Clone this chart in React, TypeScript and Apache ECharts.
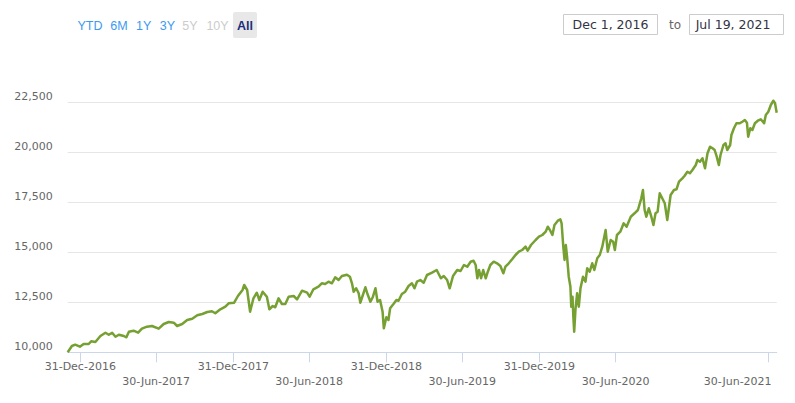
import React, { useEffect, useRef } from 'react';
import * as echarts from 'echarts';

const dates: string[] = [
  '2016-12-01','2016-12-11','2016-12-19','2016-12-30','2017-01-08','2017-01-20','2017-01-26','2017-02-05','2017-02-17','2017-03-01',
  '2017-03-09','2017-03-17','2017-03-25','2017-04-02','2017-04-14','2017-04-20','2017-04-26','2017-05-07','2017-05-18','2017-05-27',
  '2017-06-08','2017-06-20','2017-07-06','2017-07-18','2017-07-30','2017-08-11','2017-08-19','2017-08-31','2017-09-12','2017-09-24',
  '2017-10-06','2017-10-18','2017-10-30','2017-11-10','2017-11-18','2017-11-30','2017-12-12','2017-12-20','2018-01-02','2018-01-11',
  '2018-01-22','2018-01-26','2018-02-02','2018-02-09','2018-02-17','2018-02-25','2018-03-03','2018-03-11','2018-03-21','2018-03-27',
  '2018-04-04','2018-04-10','2018-04-18','2018-04-26','2018-05-04','2018-05-12','2018-05-24','2018-06-01','2018-06-13','2018-06-25',
  '2018-07-01','2018-07-10','2018-07-22','2018-07-30','2018-08-07','2018-08-15','2018-08-23','2018-08-31','2018-09-08','2018-09-16',
  '2018-09-28','2018-10-05','2018-10-10','2018-10-14','2018-10-20','2018-10-26','2018-10-30','2018-11-05','2018-11-11','2018-11-16',
  '2018-11-23','2018-11-29','2018-12-05','2018-12-10','2018-12-16','2018-12-22','2018-12-25','2018-12-31','2019-01-05','2019-01-09',
  '2019-01-17','2019-01-24','2019-01-29','2019-02-06','2019-02-14','2019-02-22','2019-03-02','2019-03-08','2019-03-14','2019-03-22',
  '2019-03-30','2019-04-07','2019-04-19','2019-04-30','2019-05-10','2019-05-17','2019-05-25','2019-05-31','2019-06-08','2019-06-18',
  '2019-06-26','2019-07-04','2019-07-12','2019-07-20','2019-07-27','2019-08-01','2019-08-05','2019-08-09','2019-08-14','2019-08-19',
  '2019-08-25','2019-08-30','2019-09-05','2019-09-13','2019-09-21','2019-09-29','2019-10-06','2019-10-11','2019-10-19','2019-10-27',
  '2019-11-04','2019-11-12','2019-11-20','2019-11-28','2019-12-03','2019-12-11','2019-12-22','2019-12-30','2020-01-07','2020-01-15',
  '2020-01-20','2020-01-26','2020-01-31','2020-02-05','2020-02-13','2020-02-19','2020-02-22','2020-02-26','2020-02-29','2020-03-03',
  '2020-03-06','2020-03-10','2020-03-14','2020-03-16','2020-03-19','2020-03-21','2020-03-23','2020-03-26','2020-03-30','2020-04-03',
  '2020-04-07','2020-04-13','2020-04-19','2020-04-23','2020-04-29','2020-05-05','2020-05-10','2020-05-17','2020-05-23','2020-05-29',
  '2020-06-06','2020-06-11','2020-06-18','2020-06-24','2020-06-28','2020-07-03','2020-07-11','2020-07-19','2020-07-26','2020-08-05',
  '2020-08-14','2020-08-22','2020-08-30','2020-09-03','2020-09-07','2020-09-11','2020-09-17','2020-09-23','2020-09-28','2020-10-03',
  '2020-10-08','2020-10-13','2020-10-19','2020-10-25','2020-10-31','2020-11-08','2020-11-16','2020-11-22','2020-11-28','2020-12-06',
  '2020-12-11','2020-12-18','2020-12-24','2020-12-30','2021-01-07','2021-01-11','2021-01-17','2021-01-23','2021-01-29','2021-02-04',
  '2021-02-10','2021-02-16','2021-02-21','2021-02-26','2021-03-03','2021-03-07','2021-03-14','2021-03-19','2021-03-23','2021-03-30',
  '2021-04-02','2021-04-08','2021-04-14','2021-04-22','2021-04-28','2021-05-04','2021-05-09','2021-05-12','2021-05-17','2021-05-22',
  '2021-05-28','2021-06-04','2021-06-11','2021-06-19','2021-06-23','2021-06-29','2021-07-05','2021-07-11','2021-07-15','2021-07-19',
];

const values: number[] = [
  10000,10315,10380,10280,10415,10415,10550,10515,10815,10980,
  10880,10980,10780,10880,10815,10750,11030,11080,10980,11180,
  11280,11315,11180,11415,11515,11480,11315,11415,11615,11680,
  11850,11915,12015,12050,11950,12150,12280,12450,12480,12815,
  13115,13365,13115,12030,12700,12980,12615,13030,12780,12150,
  12315,12250,12700,12415,12415,12780,12815,12650,13080,12980,
  12780,13150,13280,13450,13415,13530,13450,13750,13615,13815,
  13880,13780,13450,13030,13200,12950,12480,12865,13250,12915,
  12530,12780,13200,12530,12615,12030,11200,11750,11615,12200,
  12415,12615,12580,12915,13030,13315,13450,13200,13530,13615,
  13480,13865,13980,14115,13700,13815,13615,13200,13815,14115,
  14065,14365,14280,14530,14580,14365,13700,14115,13700,14115,
  13700,14030,14365,14530,14450,14315,13950,14280,14450,14650,
  14865,15030,15115,15280,15080,15365,15615,15780,15865,16030,
  16280,16080,15865,16365,16580,16650,16450,15280,14615,15365,
  14780,13780,13280,12280,12780,11780,11030,12115,12950,12280,
  13200,13780,13530,14200,14030,14450,14115,14700,14865,15280,
  16115,15030,15615,15530,15115,15865,16030,16450,16280,16780,
  16950,17115,17700,18115,17115,16780,17200,16780,16365,16950,
  17030,17950,17700,17450,16615,17865,18115,18150,18530,18700,
  18815,19030,18950,19115,19365,19615,19530,19700,19200,19950,
  20280,20200,20115,19780,19365,19865,20365,20450,20115,20365,
  20865,21200,21450,21450,21530,21615,21480,20780,21200,21115,
  21450,21580,21650,21450,21865,22030,22365,22580,22450,21980,
];

const tickDates: string[] = [
  '2016-12-31','2017-06-30','2017-12-31','2018-06-30','2018-12-31',
  '2019-06-30','2019-12-31','2020-06-30','2020-12-31','2021-06-30',
];

const rangeStart = '2016-12-01';
const rangeEnd = '2021-07-19';
const yMin = 10000;
const yMax = 22500;
const yStep = 2500;

const rangeButtons: string[] = ['YTD', '6M', '1Y', '3Y', '5Y', '10Y', 'All'];
const disabledButtons: string[] = ['5Y', '10Y'];
const selectedButton = 'All';
const fromLabel = 'Dec 1, 2016';
const toWord = 'to';
const toLabel = 'Jul 19, 2021';

const monthNames = ['Jan','Feb','Mar','Apr','May','Jun','Jul','Aug','Sep','Oct','Nov','Dec'];

const toTime = (s: string) => new Date(s + 'T00:00:00').getTime();

export default function App() {
  const ref = useRef<HTMLDivElement>(null);

  useEffect(() => {
    if (!ref.current) return;
    const chart = echarts.init(ref.current, undefined, { renderer: 'svg' });

    const btnX = [90, 119, 143.7, 167.5, 190, 217.5, 245];
    const graphics: any[] = [];
    rangeButtons.forEach((b, i) => {
      if (b === selectedButton) {
        graphics.push({
          type: 'rect',
          shape: { x: 233, y: 12, width: 24, height: 26, r: 2 },
          style: { fill: '#e8e8e8' },
          silent: true,
        });
      }
      const disabled = disabledButtons.includes(b);
      const selected = b === selectedButton;
      graphics.push({
        type: 'text',
        x: btnX[i],
        y: 25.5,
        style: {
          text: b,
          fill: selected ? '#1b2f7a' : disabled ? '#cccccc' : '#3b9af0',
          fontFamily: 'Liberation Sans, Arial, sans-serif',
          fontSize: 12.5,
          fontWeight: selected ? 'bold' : 'normal',
          align: 'center',
          verticalAlign: 'middle',
        },
        silent: true,
      });
    });
    graphics.push(
      {
        type: 'rect',
        shape: { x: 563.5, y: 14.5, width: 94, height: 20 },
        style: { fill: '#ffffff', stroke: '#cccccc', lineWidth: 1 },
        silent: true,
      },
      {
        type: 'text',
        x: 610.5,
        y: 24.5,
        style: {
          text: fromLabel,
          fill: '#333344',
          fontFamily: 'DejaVu Sans, Verdana, sans-serif',
          fontSize: 12.5,
          align: 'center',
          verticalAlign: 'middle',
        },
        silent: true,
      },
      {
        type: 'text',
        x: 675,
        y: 24.5,
        style: {
          text: toWord,
          fill: '#666666',
          fontFamily: 'DejaVu Sans, Verdana, sans-serif',
          fontSize: 12,
          align: 'center',
          verticalAlign: 'middle',
        },
        silent: true,
      },
      {
        type: 'rect',
        shape: { x: 689.5, y: 14.5, width: 94, height: 20 },
        style: { fill: '#ffffff', stroke: '#cccccc', lineWidth: 1 },
        silent: true,
      },
      {
        type: 'text',
        x: 733,
        y: 24.5,
        style: {
          text: toLabel,
          fill: '#333344',
          fontFamily: 'DejaVu Sans, Verdana, sans-serif',
          fontSize: 12.5,
          align: 'center',
          verticalAlign: 'middle',
        },
        silent: true,
      }
    );

    const tickTimes = tickDates.map(toTime);
    const lastTick = tickTimes[tickTimes.length - 1];

    chart.setOption({
      animation: false,
      backgroundColor: '#ffffff',
      grid: {
        left: 67.7,
        right: 18.3,
        top: 102.3,
        bottom: 50.7,
        containLabel: false,
        outerBoundsMode: 'none',
      },
      xAxis: {
        type: 'value',
        min: toTime(rangeStart),
        max: toTime(rangeEnd),
        axisLine: { show: true, lineStyle: { color: '#ccd6eb', width: 1 } },
        axisTick: {
          show: true,
          length: 10,
          lineStyle: { color: '#ccd6eb', width: 1 },
          customValues: tickTimes,
        },
        splitLine: { show: false },
        axisLabel: {
          customValues: tickTimes,
          color: '#666666',
          fontFamily: 'DejaVu Sans, Verdana, sans-serif',
          fontSize: 11,
          lineHeight: 14.5,
          margin: 7,
          hideOverlap: false,
          showMinLabel: true,
          showMaxLabel: true,
          rich: {
            r: {
              fontFamily: 'DejaVu Sans, Verdana, sans-serif',
              fontSize: 11,
              lineHeight: 14.5,
              color: '#666666',
              padding: [0, 62, 0, 0],
            },
          },
          formatter: (v: number) => {
            const d = new Date(v);
            const txt = `${String(d.getDate()).padStart(2, '0')}-${monthNames[d.getMonth()]}-${d.getFullYear()}`;
            if (v === lastTick) return '\n{r|' + txt + '}';
            return d.getMonth() === 5 ? '\n' + txt : txt;
          },
        },
      },
      yAxis: {
        type: 'value',
        min: yMin,
        max: yMax,
        interval: yStep,
        axisLine: { show: false },
        axisTick: { show: false },
        splitLine: { show: true, lineStyle: { color: '#e6e6e6', width: 1 } },
        axisLabel: {
          color: '#666666',
          fontFamily: 'DejaVu Sans, Verdana, sans-serif',
          fontSize: 11,
          margin: 15,
          verticalAlign: 'bottom',
          formatter: (v: number) => v.toLocaleString('en-US'),
        },
      },
      series: [
        {
          type: 'line',
          data: dates.map((d, i) => [toTime(d), values[i]]),
          showSymbol: false,
          symbol: 'none',
          clip: false,
          lineStyle: { color: '#76a032', width: 2.5, join: 'round' },
          itemStyle: { color: '#76a032' },
        },
      ],
      graphic: graphics,
    });

    return () => chart.dispose();
  }, []);

  return (
    <div
      ref={ref}
      style={{ position: 'fixed', left: 0, top: 0, width: 795, height: 403, background: '#fff' }}
    />
  );
}
